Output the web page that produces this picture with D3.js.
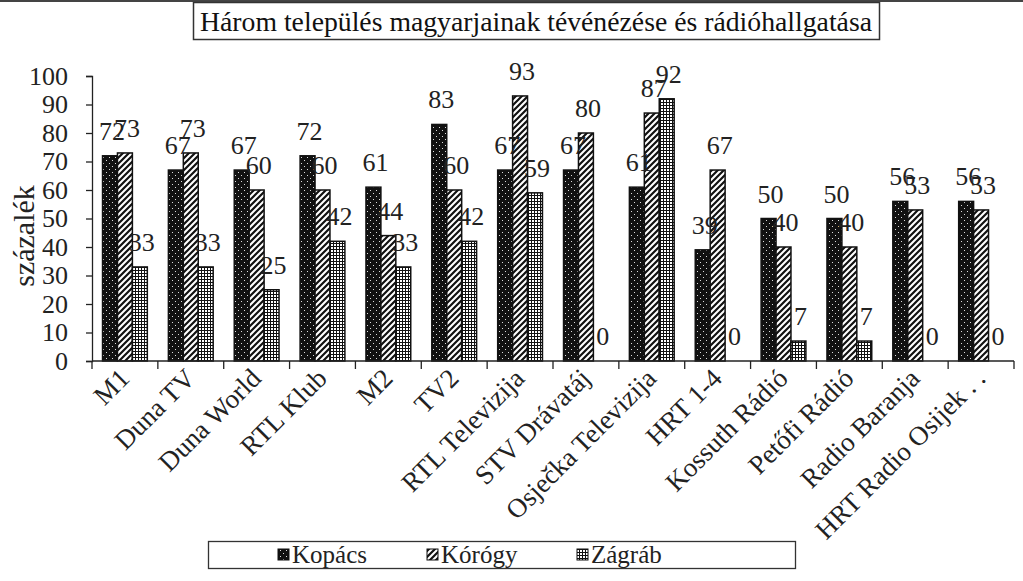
<!DOCTYPE html>
<html><head><meta charset="utf-8">
<script src="https://cdn.jsdelivr.net/npm/d3@7"></script>
<style>body{margin:0;background:#fff}svg{display:block}svg text{font-family:'Liberation Serif','Times New Roman',serif}</style>
</head><body>
<script>
const categories = ["M1","Duna TV","Duna World","RTL Klub","M2","TV2","RTL Televizija","STV Drávatáj","Osječka Televizija","HRT 1-4","Kossuth Rádió","Petőfi Rádió","Radio Baranja","HRT Radio Osijek . ."];
const seriesNames = ["Kopács","Kórógy","Zágráb"];
const kopacs = [72,67,67,72,61,83,67,67,61,39,50,50,56,56];
const korogy = [73,73,60,60,44,60,93,80,87,67,40,40,53,53];
const zagrab = [33,33,25,42,33,42,59,0,92,0,7,7,0,0];
const yTicks = [0,10,20,30,40,50,60,70,80,90,100];
const title = "Három település magyarjainak tévénézése és rádióhallgatása";
const yTitle = "százalék";

const W=1023,H=581;
const font = "'Liberation Serif','Times New Roman',serif";
const svg = d3.select("body").append("svg").attr("width",W).attr("height",H);
const defs = svg.append("defs");
// patterns
const p1 = defs.append("pattern").attr("id","pKop").attr("patternUnits","userSpaceOnUse").attr("width",6).attr("height",6);
p1.append("rect").attr("width",6).attr("height",6).attr("fill","#111");
p1.append("rect").attr("x",1).attr("y",1).attr("width",1).attr("height",1).attr("fill","#ddd");
p1.append("rect").attr("x",4).attr("y",4).attr("width",1).attr("height",1).attr("fill","#ddd");
const p2 = defs.append("pattern").attr("id","pKor").attr("patternUnits","userSpaceOnUse").attr("width",6).attr("height",6);
p2.append("rect").attr("width",6).attr("height",6).attr("fill","#fff");
p2.append("path").attr("d","M-1,7 L7,-1 M-4,4 L4,-4 M2,10 L10,2").attr("stroke","#111").attr("stroke-width",2.2);
const p3 = defs.append("pattern").attr("id","pZag").attr("patternUnits","userSpaceOnUse").attr("width",3).attr("height",3);
p3.append("rect").attr("width",3).attr("height",3).attr("fill","#fff");
p3.append("path").attr("d","M0,0.5 H3 M0.5,0 V3").attr("stroke","#111").attr("stroke-width",1);
const fills = ["url(#pKop)","url(#pKor)","url(#pZag)"];

// top border line
svg.append("rect").attr("x",0).attr("y",0).attr("width",W).attr("height",2).attr("fill","#444");

const x0 = d3.scaleBand().domain(categories).range([92,1014]).paddingInner(0).paddingOuter(0);
const pad = 0.16;
const x1 = d3.scaleBand().domain(seriesNames).range([x0.bandwidth()*pad, x0.bandwidth()*(1-pad)]);
const y = d3.scaleLinear().domain([0,100]).range([361,76]);

// title box
const tg = svg.append("g");
tg.append("rect").attr("x",193.5).attr("y",2.5).attr("width",686).attr("height",37).attr("fill","#fff").attr("stroke","#333").attr("stroke-width",1.5);
tg.append("text").attr("x",536).attr("y",31).attr("text-anchor","middle").style("font-family",font).attr("font-size",27)
  .attr("textLength",672).attr("lengthAdjust","spacingAndGlyphs").attr("fill","#111").text(title);

// y axis
const yAxis = d3.axisLeft(y).tickValues(yTicks).tickSize(6).tickPadding(18);
const ya = svg.append("g").attr("transform","translate(92,0)").call(yAxis);
ya.attr("font-family",null).attr("font-size",null);
ya.select(".domain").attr("stroke","#222").attr("stroke-width",1.3);
ya.selectAll(".tick line").attr("stroke","#222").attr("stroke-width",1.3);
ya.selectAll(".tick text").style("font-family",font).attr("font-size",26).attr("fill","#222");

svg.append("text").attr("transform","translate(34,236) rotate(-90)").attr("text-anchor","middle")
  .style("font-family",font).attr("font-size",30).attr("fill","#222").text(yTitle);

// bars
const data = [kopacs,korogy,zagrab];
const groups = svg.append("g");
seriesNames.forEach((s,si)=>{
  groups.selectAll(null).data(categories).enter().append("rect")
    .attr("x",c=>x0(c)+x1(s)).attr("width",x1.bandwidth())
    .attr("y",(c,i)=>y(data[si][i])).attr("height",(c,i)=>y(0)-y(data[si][i]))
    .attr("fill",fills[si]).attr("stroke","#111").attr("stroke-width",(c,i)=>data[si][i]>0?1.5:0);
});

// x axis
const xa = svg.append("g").attr("transform","translate(0,361)");
xa.append("line").attr("x1",92).attr("x2",1014).attr("stroke","#222").attr("stroke-width",1.3);
const bounds = d3.range(categories.length+1).map(i=>92+i*x0.step());
xa.selectAll(null).data(bounds).enter().append("line")
  .attr("x1",d=>d).attr("x2",d=>d).attr("y1",0).attr("y2",8).attr("stroke","#222").attr("stroke-width",1.3);
xa.selectAll(null).data(categories).enter().append("text")
  .attr("transform",c=>`translate(${x0(c)+x0.bandwidth()/2+6},${19}) rotate(-45)`)
  .attr("text-anchor","end").style("font-family",font).attr("font-size",27).attr("fill","#222").text(c=>c);

// labels
seriesNames.forEach((s,si)=>{
  svg.append("g").selectAll(null).data(categories).enter().append("text")
    .attr("x",c=>x0(c)+x1(s)+x1.bandwidth()/2+2)
    .attr("y",(c,i)=>y(data[si][i])-16)
    .attr("text-anchor","middle").style("font-family",font).attr("font-size",26).attr("fill","#222")
    .text((c,i)=>data[si][i]);
});

// legend
const lg = svg.append("g");
lg.append("rect").attr("x",208.5).attr("y",541.5).attr("width",587).attr("height",27).attr("fill","#fff").attr("stroke","#333").attr("stroke-width",1.3);
const lx = [278,427,577];
seriesNames.forEach((s,i)=>{
  lg.append("rect").attr("x",lx[i]).attr("y",549).attr("width",11).attr("height",11).attr("fill",fills[i]).attr("stroke","#111").attr("stroke-width",1);
  lg.append("text").attr("x",lx[i]+14).attr("y",563).style("font-family",font).attr("font-size",25).attr("fill","#222").text(s);
});
</script>
</body></html>
